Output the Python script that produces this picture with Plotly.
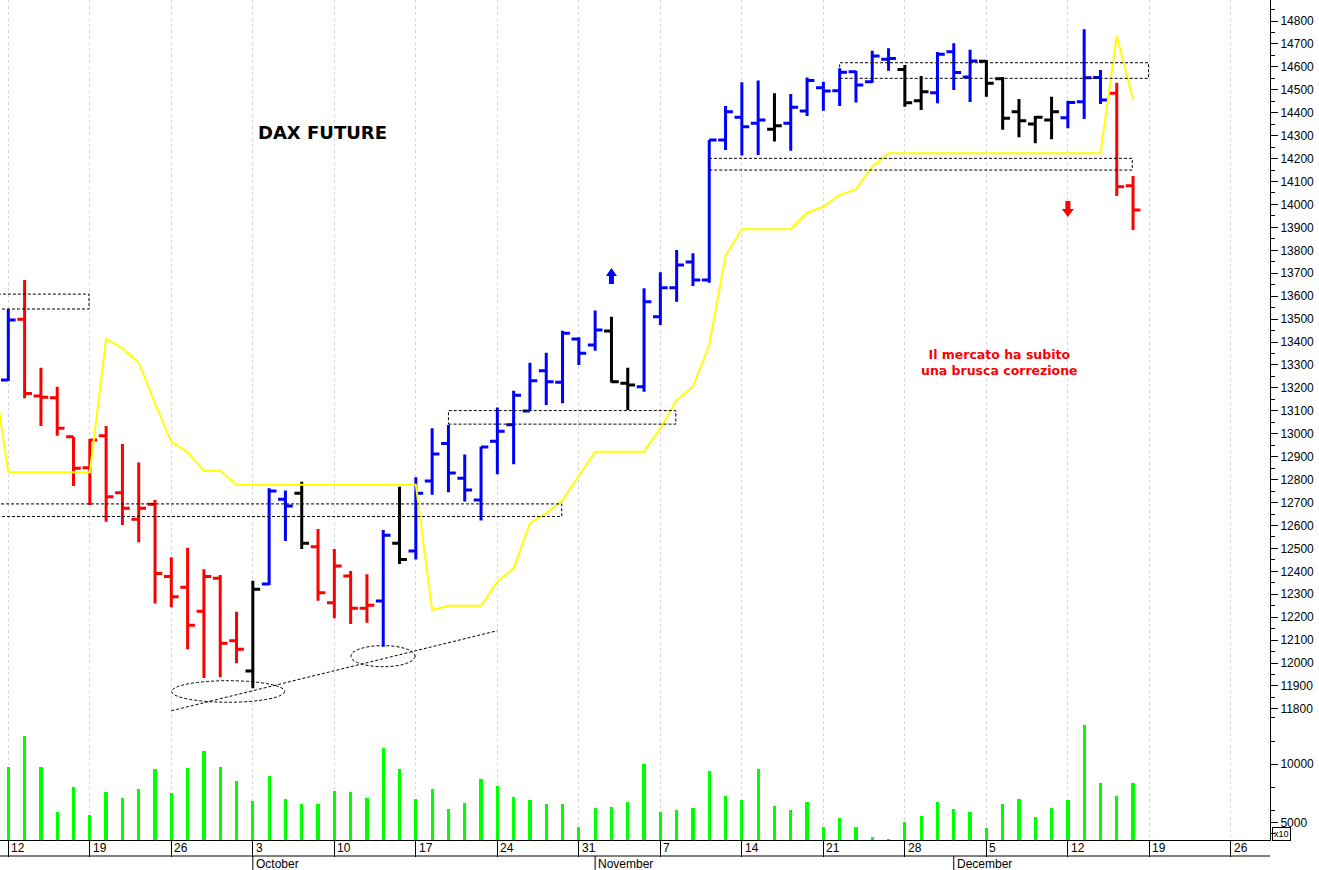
import pandas as pd
import plotly.graph_objects as go

# ---------------- data ----------------
bar_dates = [d.strftime("%Y-%m-%d") for d in pd.bdate_range("2022-09-09", "2022-12-16")]
axis_days = [d.strftime("%Y-%m-%d") for d in pd.bdate_range("2022-09-09", "2022-12-30")]

opens = [13150, 13234, 13499, 13165, 13157, 12987, 12852, 12991, 12743, 12627, 12692,
         12377, 12330, 12226, 12370, 12097, 11965, 12345, 12714, 12740, 12507,
         12263, 12380, 12239, 12271, 12522, 12489, 12794, 12957, 12806, 12711,
         12967, 13039, 13099, 13275, 13225, 13413, 13387, 13448, 13220, 13205,
         13510, 13637, 13749, 13670, 14281, 14380, 14354, 14328, 14354, 14408,
         14509, 14496, 14579, 14535, 14633, 14589, 14452, 14487, 14666, 14556,
         14625, 14548, 14404, 14351, 14368, 14378, 14448, 14554, 14485, 14082]
highs = [13320, 13543, 13670, 13288, 13205, 12987, 12977, 13034, 12955, 12875, 12711,
         12461, 12503, 12409, 12384, 12224, 12359, 12762, 12752, 12791, 12585,
         12497, 12401, 12387, 12580, 12769, 12810, 13024, 13038, 12910, 12943,
         13114, 13188, 13310, 13353, 13449, 13421, 13537, 13510, 13288, 13634,
         13704, 13801, 13787, 14281, 14429, 14533, 14540, 14485, 14482, 14554,
         14535, 14594, 14583, 14670, 14681, 14608, 14560, 14665, 14703, 14675,
         14630, 14556, 14460, 14386, 14470, 14452, 14764, 14586, 14531, 14124]
lows = [13100, 13230, 13155, 13034, 12991, 12772, 12689, 12616, 12602, 12527, 12260,
        12243, 12060, 11935, 11938, 11999, 11890, 12340, 12532, 12497, 12272,
        12195, 12170, 12176, 12071, 12432, 12452, 12734, 12745, 12705, 12622,
        12823, 12867, 13099, 13125, 13133, 13300, 13362, 13223, 13104, 13183,
        13474, 13576, 13644, 13659, 14237, 14213, 14216, 14274, 14234, 14386,
        14409, 14429, 14445, 14531, 14583, 14426, 14412, 14441, 14499, 14447,
        14470, 14326, 14293, 14267, 14284, 14332, 14373, 14438, 14037, 13889]
closes = [13250, 13496, 13176, 13159, 13024, 12849, 12973, 12725, 12675, 12675, 12391,
          12289, 12165, 12377, 12086, 12060, 12322, 12750, 12685, 12522, 12307,
          12423, 12239, 12252, 12557, 12452, 12740, 12912, 12829, 12755, 12942,
          13011, 13168, 13231, 13227, 13438, 13351, 13452, 13227, 13213, 13576,
          13637, 13736, 13670, 14281, 14404, 14339, 14368, 14343, 14424, 14540,
          14495, 14576, 14521, 14647, 14637, 14444, 14492, 14655, 14575, 14626,
          14528, 14376, 14365, 14380, 14404, 14445, 14553, 14455, 14077, 13976]
# trend colour of each bar: B = blue, R = red, K = black
trend = ["B", "B",
         "R", "R", "R", "R", "R", "R", "R", "R", "R", "R", "R", "R", "R", "R",
         "K", "B", "B", "K", "R",
         "R", "R", "R", "B", "K",
         "B", "B", "B", "B", "B",
         "B", "B", "B", "B", "B",
         "B", "B", "K", "K", "B",
         "B", "B", "B", "B", "B",
         "B", "B", "K", "B", "B",
         "B", "B", "B", "B", "B",
         "K", "K", "B", "B", "B",
         "K", "K", "K", "K", "K",
         "B", "B", "B", "R", "R"]
stop_line = [13304,
             12832, 12832, 12832, 12832, 12832, 12832, 13413, 13373, 13310, 13133,
             12965, 12919, 12839, 12839, 12778, 12778, 12778, 12778, 12778, 12778,
             12778, 12778, 12778, 12778, 12778, 12778, 12231, 12250, 12250, 12250,
             12355, 12413, 12609, 12653, 12711, 12816, 12922, 12922, 12922, 12922,
             13024, 13147, 13205, 13387, 13777, 13892, 13892, 13892, 13892, 13964,
             13990, 14041, 14067, 14165, 14223, 14223, 14223, 14223, 14223, 14223,
             14223, 14223, 14223, 14223, 14223, 14223, 14223, 14223, 14735, 14455]
volume = [8000,
          9741, 12439, 9741, 5862, 8017, 5603, 7612, 7095, 7845, 9594,
          7500, 9681, 11120, 9741, 8534, 6862, 9017, 6983, 6552, 6552,
          7672, 7612, 7095, 11379, 9594, 7008, 7845, 6121, 6638, 8707,
          8103, 7155, 6896, 6603, 6577, 4595, 6207, 6345, 6724, 10000,
          5914, 6060, 6233, 9422, 7241, 6896, 9594, 6405, 6034, 6724,
          4595, 5371, 4569, 3707, 3560, 5026, 5517, 6724, 6172, 5862,
          4534, 6603, 7008, 5431, 6259, 6948, 13361, 8362, 7241, 8362]

month_names = {10: "October", 11: "November", 12: "December"}

# support / resistance zones (start date, end date, low, high)
zones = [("2022-09-09", "2022-09-19", 13544, 13609),
         ("2022-09-09", "2022-10-28", 12639, 12694),
         ("2022-10-19", "2022-11-08", 13042, 13101),
         ("2022-11-22", "2022-12-19", 14550, 14618),
         ("2022-11-10", "2022-12-16", 14150, 14201)]
ellipses = [("2022-09-26", "2022-10-05", 11829, 11923),
            ("2022-10-11", "2022-10-17", 11984, 12076)]
trendline = [("2022-09-26", 11792), ("2022-10-24", 12141)]
# signal arrows (date, price at the tip, direction, colour)
signals = [("2022-11-02", 13723, "up", "#0000FF"),
           ("2022-12-12", 13945, "down", "#FF0000")]

# ---------------- helpers ----------------
pos = {d: i for i, d in enumerate(axis_days)}
bx = [pos[d] for d in bar_dates]
mondays = [i for i, d in enumerate(axis_days) if pd.Timestamp(d).weekday() == 0]
month_first = []
for i, d in enumerate(axis_days):
    t = pd.Timestamp(d)
    if i > 0 and t.month != pd.Timestamp(axis_days[i - 1]).month:
        month_first.append((i, month_names[t.month]))

colors = {"B": "#0000FF", "R": "#FF0000", "K": "#000000"}

fig = go.Figure()

fig.add_trace(go.Scatter(x=bx, y=stop_line, mode="lines",
                         line=dict(color="#FFFF00", width=2), hoverinfo="skip",
                         showlegend=False, yaxis="y"))

for code, col in colors.items():
    idx = [k for k, t in enumerate(trend) if t == code]
    fig.add_trace(go.Ohlc(
        x=[bx[k] for k in idx], open=[opens[k] for k in idx], high=[highs[k] for k in idx],
        low=[lows[k] for k in idx], close=[closes[k] for k in idx],
        increasing=dict(line=dict(color=col, width=3)),
        decreasing=dict(line=dict(color=col, width=3)),
        tickwidth=0.45, showlegend=False, yaxis="y"))

fig.add_trace(go.Bar(x=bx, y=volume, width=0.2, marker=dict(color="#00FF00", line=dict(width=0)),
                     showlegend=False, yaxis="y2"))

shapes = []
dash = "3px,2px"
for d0, d1, lo, hi in zones:
    shapes.append(dict(type="rect", xref="x", yref="y", x0=pos[d0], x1=pos[d1] - 0.05,
                       y0=lo, y1=hi, line=dict(color="black", width=1, dash=dash)))
for d0, d1, lo, hi in ellipses:
    shapes.append(dict(type="circle", xref="x", yref="y", x0=pos[d0] + 0.02, x1=pos[d1] - 0.05,
                       y0=lo, y1=hi, line=dict(color="black", width=1, dash=dash)))
shapes.append(dict(type="line", xref="x", yref="y", x0=pos[trendline[0][0]], y0=trendline[0][1],
                   x1=pos[trendline[1][0]], y1=trendline[1][1],
                   line=dict(color="black", width=1, dash=dash)))
# block arrows, drawn in pixel size anchored at the tip
up_path = "M0,0 L5.5,-8 L2.5,-8 L2.5,-16 L-2.5,-16 L-2.5,-8 L-5.5,-8 Z"
down_path = "M0,0 L6,8 L2.5,8 L2.5,16 L-2.5,16 L-2.5,8 L-6,8 Z"
for d, price, direction, col in signals:
    shapes.append(dict(type="path", xref="x", yref="y", xsizemode="pixel", ysizemode="pixel",
                       xanchor=pos[d], yanchor=price,
                       path=up_path if direction == "up" else down_path,
                       fillcolor=col, line=dict(color=col, width=0)))
# date rows
shapes.append(dict(type="line", xref="paper", yref="paper", x0=0, x1=1, y0=-16 / 840, y1=-16 / 840,
                   line=dict(color="black", width=1)))
for i, name in month_first:
    shapes.append(dict(type="line", xref="x", yref="paper", x0=i, x1=i, y0=-16 / 840, y1=-32 / 840,
                       line=dict(color="black", width=1)))

annotations = []
for i in mondays:
    annotations.append(dict(x=i, y=-8 / 840, xref="x", yref="paper", text=str(pd.Timestamp(axis_days[i]).day),
                            showarrow=False, xanchor="left", yanchor="middle", xshift=1,
                            font=dict(family="Liberation Sans, Arial", size=12, color="black")))
for i, name in month_first:
    annotations.append(dict(x=i, y=-24 / 840, xref="x", yref="paper", text=name,
                            showarrow=False, xanchor="left", yanchor="middle", xshift=1,
                            font=dict(family="Liberation Sans, Arial", size=12, color="black")))

annotations.append(dict(x=pos["2022-10-07"] + 0.3, y=14312, xref="x", yref="y", text="<b>DAX FUTURE</b>",
                        showarrow=False, font=dict(family="DejaVu Sans", size=18, color="black")))
annotations.append(dict(x=pos["2022-12-06"] - 0.2, y=13311, xref="x", yref="y",
                        text="<b>Il mercato ha subito<br>una brusca correzione</b>",
                        showarrow=False, font=dict(family="DejaVu Sans", size=12.5, color="#FF0000")))
annotations.append(dict(x=1, y=6 / 840, xref="paper", yref="paper", text="x10", showarrow=False,
                        xanchor="left", yanchor="middle", xshift=2,
                        font=dict(family="Liberation Sans, Arial", size=9, color="black"),
                        bordercolor="black", borderwidth=1, borderpad=1))

tickfont = dict(family="Liberation Sans, Arial", size=12, color="black")
fig.update_layout(
    width=1319, height=870,
    margin=dict(l=0, r=49, t=0, b=30),
    paper_bgcolor="white", plot_bgcolor="white",
    showlegend=False, bargap=0,
    xaxis=dict(range=[0.49, 78.4], anchor="y2", showline=True, linecolor="black", linewidth=1,
               tickmode="array", tickvals=mondays, showticklabels=False, ticks="outside", ticklen=16,
               tickcolor="black", showgrid=True, gridcolor="#D4D4E4", griddash="3px,3px", gridwidth=1,
               zeroline=False, rangeslider=dict(visible=False), fixedrange=True),
    yaxis=dict(domain=[125 / 840, 1], range=[11773.4, 14891.6], side="right", anchor="x",
               showline=True, linecolor="black", showgrid=False, zeroline=False,
               tick0=0, dtick=100, ticks="outside", ticklen=7, tickcolor="black",
               minor=dict(dtick=50, ticks="outside", ticklen=4, tickcolor="black", showgrid=False),
               tickfont=tickfont, tickformat="d", fixedrange=True),
    yaxis2=dict(domain=[0, 125 / 840], range=[3474, 14249], side="right", anchor="x",
                showline=True, linecolor="black", showgrid=False, zeroline=False,
                tickmode="array", tickvals=[5000, 10000], ticktext=["5000", "10000"],
                ticks="outside", ticklen=7, tickcolor="black",
                minor=dict(tickmode="linear", tick0=0, dtick=2000, ticks="outside", ticklen=4,
                           tickcolor="black", showgrid=False),
                tickfont=tickfont, fixedrange=True),
    shapes=shapes, annotations=annotations,
)

fig.write_html("out.html", config={"displayModeBar": False},
               post_script="document.body.style.margin='0';")
